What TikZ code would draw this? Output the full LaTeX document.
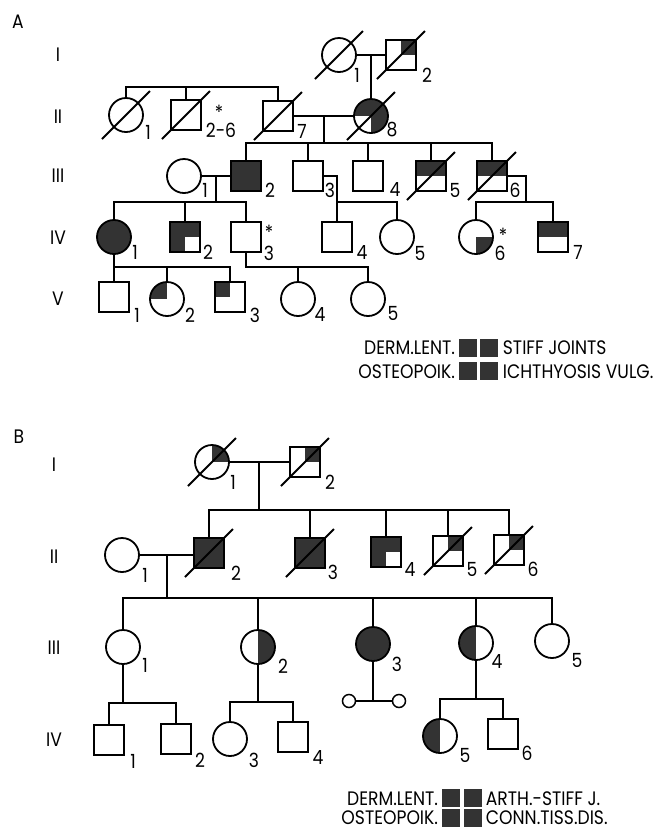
\documentclass[tikz,border=0pt]{standalone}
\usepackage{fontspec}
\setmainfont{Poppins}[FakeStretch=0.88]
\usetikzlibrary{calc}
\definecolor{affc}{HTML}{333333}

% deceased mark: a slash through the symbol
\newcommand\deceased[1]{\draw ([shift={(-24,24)}]#1.center) -- ([shift={(24,-24)}]#1.center);}

\begin{document}
\begin{tikzpicture}[x=1pt,y=-1pt,line width=1.8pt,
  ind/.style={draw, line width=1.8pt, inner sep=0pt, outer sep=0pt},
  male/.style={ind, rectangle, minimum size=30pt},
  female/.style={ind, circle, minimum size=34pt},
  q/.style={path picture={\foreach \a in {#1}
      \fill[affc] (path picture bounding box.center) rectangle (path picture bounding box.\a);}},
  full/.style={fill=affc},
  txt/.style={font=\fontsize{19.5}{20}\selectfont, inner sep=0pt},
  keytxt/.style={txt, text depth=0pt},
  keybox/.style={fill=affc, minimum size=18pt, inner sep=0pt},
  twin/.style={ind, circle, minimum size=13pt, line width=1.5pt},
]
\useasboundingbox (0,0) rectangle (665,831);

% ===================== Pedigree A =====================
\node[txt] (labA) at (18,22) {A};
\node[txt] (gA1) at (58,55) {I};
\node[txt] (gA2) at (58,117) {II};
\node[txt] (gA3) at (58,176) {III};
\node[txt] (gA4) at (58,238) {IV};
\node[txt] (gA5) at (58,299) {V};

% generation I
\node[female] (aI1) at (339,55) {};
\node[male, q={north east}] (aI2) at (401,55) {};
\deceased{aI1}\deceased{aI2}
\node[txt] (naI1) at (357,75) {1};
\node[txt] (naI2) at (427,75) {2};
\draw (aI1.east) -- (aI2.west);
\coordinate (mA1) at (371,55);

% generation II
\node[female] (aII1) at (126,115) {};
\node[male] (aII2) at (186,115) {};
\node[male] (aII7) at (278,116) {};
\node[female, q={north west,north east,south east}] (aII8) at (371,116) {};
\deceased{aII1}\deceased{aII2}\deceased{aII7}\deceased{aII8}
\node[txt] (naII1) at (148,132) {1};
\node[txt] (naII2) at (221,130) {2-6};
\node[txt] (saII2) at (219,112) {*};
\node[txt] (naII7) at (302,131) {7};
\node[txt] (naII8) at (392,130) {8};
\draw (mA1) -- (aII8.north);
\coordinate (sA0) at (186,87);
\draw (aII1.north) -- (aII1.north |- sA0) -- (aII7.north |- sA0) -- (aII7.north);
\draw (aII2.north) -- (aII2.north |- sA0);
\draw (aII7.east) -- (aII8.west);
\coordinate (mA2) at (324,116);

% generation III
\node[female] (aIII1) at (184,176) {};
\node[male, full] (aIII2) at (246,176) {};
\node[male] (aIII3) at (308,176) {};
\node[male] (aIII4) at (368,176) {};
\node[male, q={north west,north east}] (aIII5) at (431,176) {};
\node[male, q={north west,north east}] (aIII6) at (492,176) {};
\deceased{aIII5}\deceased{aIII6}
\node[txt] (naIII1) at (205,190) {1};
\node[txt] (naIII2) at (270,190) {2};
\node[txt] (naIII3) at (330,190) {3};
\node[txt] (naIII4) at (395,190) {4};
\node[txt] (naIII5) at (455,190) {5};
\node[txt] (naIII6) at (515,190) {6};
\coordinate (sA3) at (300,143);
\draw (mA2) -- (mA2 |- sA3);
\draw (aIII2.north) -- (aIII2.north |- sA3) -- (aIII6.north |- sA3) -- (aIII6.north);
\foreach \n in {aIII3,aIII4,aIII5} \draw (\n.north) -- (\n.north |- sA3);
\draw (aIII1.east) -- (aIII2.west);
\coordinate (mA3) at (216,176);

% generation IV
\node[female, full] (aIV1) at (114,237) {};
\node[male, q={north west,north east,south west}] (aIV2) at (185,237) {};
\node[male] (aIV3) at (246,237) {};
\node[male] (aIV4) at (337,237) {};
\node[female] (aIV5) at (397,237) {};
\node[female, q={south east}] (aIV6) at (476,237) {};
\node[male, q={north west,north east}] (aIV7) at (553,237) {};
\node[txt] (naIV1) at (135,252) {1};
\node[txt] (naIV2) at (208,252) {2};
\node[txt] (saIV3) at (269,232) {*};
\node[txt] (naIV3) at (269,253) {3};
\node[txt] (naIV4) at (362,253) {4};
\node[txt] (naIV5) at (420,253) {5};
\node[txt] (saIV6) at (503,235) {*};
\node[txt] (naIV6) at (500,253) {6};
\node[txt] (naIV7) at (578,252) {7};
\coordinate (sA4) at (300,202);
\draw (mA3) -- (mA3 |- sA4);
\draw (aIV1.north) -- (aIV1.north |- sA4) -- (aIV3.north |- sA4) -- (aIV3.north);
\draw (aIV2.north) -- (aIV2.north |- sA4);
\coordinate (cA3) at (337,176);
\draw (aIII3.east) -- (cA3) -- (cA3 |- sA4) -- (aIV5.north |- sA4) -- (aIV5.north);
\draw (cA3 |- sA4) -- (aIV4.north);
\coordinate (cA6) at (526,176);
\draw (aIII6.east) -- (cA6) -- (cA6 |- sA4);
\draw (aIV6.north) -- (aIV6.north |- sA4) -- (aIV7.north |- sA4) -- (aIV7.north);

% generation V
\node[male] (aV1) at (114,297) {};
\node[female, q={north west}] (aV2) at (167,299) {};
\node[male, q={north west}] (aV3) at (230,297) {};
\node[female] (aV4) at (298,299) {};
\node[female] (aV5) at (368,299) {};
\node[txt] (naV1) at (137,315) {1};
\node[txt] (naV2) at (190,315) {2};
\node[txt] (naV3) at (255,315) {3};
\node[txt] (naV4) at (320,315) {4};
\node[txt] (naV5) at (393,313) {5};
\coordinate (sA5) at (300,267);
\draw (aIV1.south) -- (aV1.north);
\draw (aIV1.south |- sA5) -- (aV3.north |- sA5) -- (aV3.north);
\draw (aV2.north) -- (aV2.north |- sA5);
\draw (aIV3.south) -- (aIV3.south |- sA5) -- (aV5.north |- sA5) -- (aV5.north);
\draw (aV4.north) -- (aV4.north |- sA5);

% key A
\node[keybox] (kA1) at (467.5,347.5) {};
\node[keybox] (kA2) at (488.5,347.5) {};
\node[keybox] (kA3) at (467.5,371) {};
\node[keybox] (kA4) at (488.5,371) {};
\node[keytxt, anchor=base east] (tA1) at (456,354.5) {DERM.LENT.};
\node[keytxt, anchor=base west] (tA2) at (502,354.5) {STIFF JOINTS};
\node[keytxt, anchor=base east] (tA3) at (456,378) {OSTEOPOIK.};
\node[keytxt, anchor=base west] (tA4) at (502,378) {ICHTHYOSIS VULG.};

% ===================== Pedigree B =====================
\node[txt] (labB) at (19,437) {B};
\node[txt] (gB1) at (54,465) {I};
\node[txt] (gB2) at (54,557) {II};
\node[txt] (gB3) at (54,648) {III};
\node[txt] (gB4) at (54,740) {IV};

% generation I
\node[female, q={north east}] (bI1) at (212,462) {};
\node[male, q={north east}] (bI2) at (305,462) {};
\deceased{bI1}\deceased{bI2}
\node[txt] (nbI1) at (233,482) {1};
\node[txt] (nbI2) at (330,482) {2};
\draw (bI1.east) -- (bI2.west);
\coordinate (mB1) at (259,462);

% generation II
\node[female] (bII1) at (122,555) {};
\node[male, full] (bII2) at (209,553) {};
\node[male, full] (bII3) at (310,553) {};
\node[male, q={north west,north east,south west}] (bII4) at (386,552) {};
\node[male, q={north east}] (bII5) at (448,551) {};
\node[male, q={north east}] (bII6) at (509,550) {};
\deceased{bII2}\deceased{bII3}\deceased{bII5}\deceased{bII6}
\node[txt] (nbII1) at (145,575) {1};
\node[txt] (nbII2) at (236,573) {2};
\node[txt] (nbII3) at (333,572) {3};
\node[txt] (nbII4) at (410,570) {4};
\node[txt] (nbII5) at (472,569) {5};
\node[txt] (nbII6) at (533,569) {6};
\coordinate (sB2) at (300,510);
\draw (mB1) -- (mB1 |- sB2);
\draw (bII2.north) -- (bII2.north |- sB2) -- (bII6.north |- sB2) -- (bII6.north);
\foreach \n in {bII3,bII4,bII5} \draw (\n.north) -- (\n.north |- sB2);
\draw (bII1.east) -- (bII1.east -| bII2.west);
\coordinate (mB2) at (167,555);

% generation III
\node[female] (bIII1) at (123,647) {};
\node[female, q={north east,south east}] (bIII2) at (258,647) {};
\node[female, full] (bIII3) at (373,644) {};
\node[female, q={north west,south west}] (bIII4) at (476,643) {};
\node[female] (bIII5) at (552,641) {};
\node[txt] (nbIII1) at (145,665) {1};
\node[txt] (nbIII2) at (283,666) {2};
\node[txt] (nbIII3) at (397,664) {3};
\node[txt] (nbIII4) at (497,662) {4};
\node[txt] (nbIII5) at (577,660) {5};
\coordinate (sB3) at (300,598);
\draw (mB2) -- (mB2 |- sB3);
\draw (bIII1.north) -- (bIII1.north |- sB3) -- (bIII5.north |- sB3) -- (bIII5.north);
\foreach \n in {bIII2,bIII3,bIII4} \draw (\n.north) -- (\n.north |- sB3);

% generation IV
\node[male] (bIV1) at (109,740) {};
\node[male] (bIV2) at (176,739) {};
\node[female] (bIV3) at (230,739) {};
\node[male] (bIV4) at (293,737) {};
\node[twin] (bIVa) at (349,701) {};
\node[twin] (bIVb) at (399,701) {};
\node[female, q={north west,south west}] (bIV5) at (440,736) {};
\node[male] (bIV6) at (503,734) {};
\node[txt] (nbIV1) at (133,761) {1};
\node[txt] (nbIV2) at (200,760) {2};
\node[txt] (nbIV3) at (254,760) {3};
\node[txt] (nbIV4) at (318,758) {4};
\node[txt] (nbIV5) at (465,755) {5};
\node[txt] (nbIV6) at (527,753) {6};
\coordinate (sB4a) at (0,703);
\draw (bIII1.south) -- (bIII1.south |- sB4a);
\draw (bIV1.north) -- (bIV1.north |- sB4a) -- (bIV2.north |- sB4a) -- (bIV2.north);
\coordinate (sB4b) at (0,702);
\draw (bIII2.south) -- (bIII2.south |- sB4b);
\draw (bIV3.north) -- (bIV3.north |- sB4b) -- (bIV4.north |- sB4b) -- (bIV4.north);
\draw (bIII3.south) -- (bIII3.south |- bIVa.center);
\draw (bIVa.east) -- (bIVb.west);
\coordinate (sB4c) at (0,699);
\draw (bIII4.south) -- (bIII4.south |- sB4c);
\draw (bIV5.north) -- (bIV5.north |- sB4c) -- (bIV6.north |- sB4c) -- (bIV6.north);

% key B
\node[keybox] (kB1) at (451,798) {};
\node[keybox] (kB2) at (472.5,798) {};
\node[keybox] (kB3) at (451,817.5) {};
\node[keybox] (kB4) at (472.5,817.5) {};
\node[keytxt, anchor=base east] (tB1) at (439,805) {DERM.LENT.};
\node[keytxt, anchor=base west] (tB2) at (485,805) {ARTH.-STIFF J.};
\node[keytxt, anchor=base east] (tB3) at (439,824) {OSTEOPOIK.};
\node[keytxt, anchor=base west] (tB4) at (485,824) {CONN.TISS.DIS.};
\end{tikzpicture}
\end{document}
